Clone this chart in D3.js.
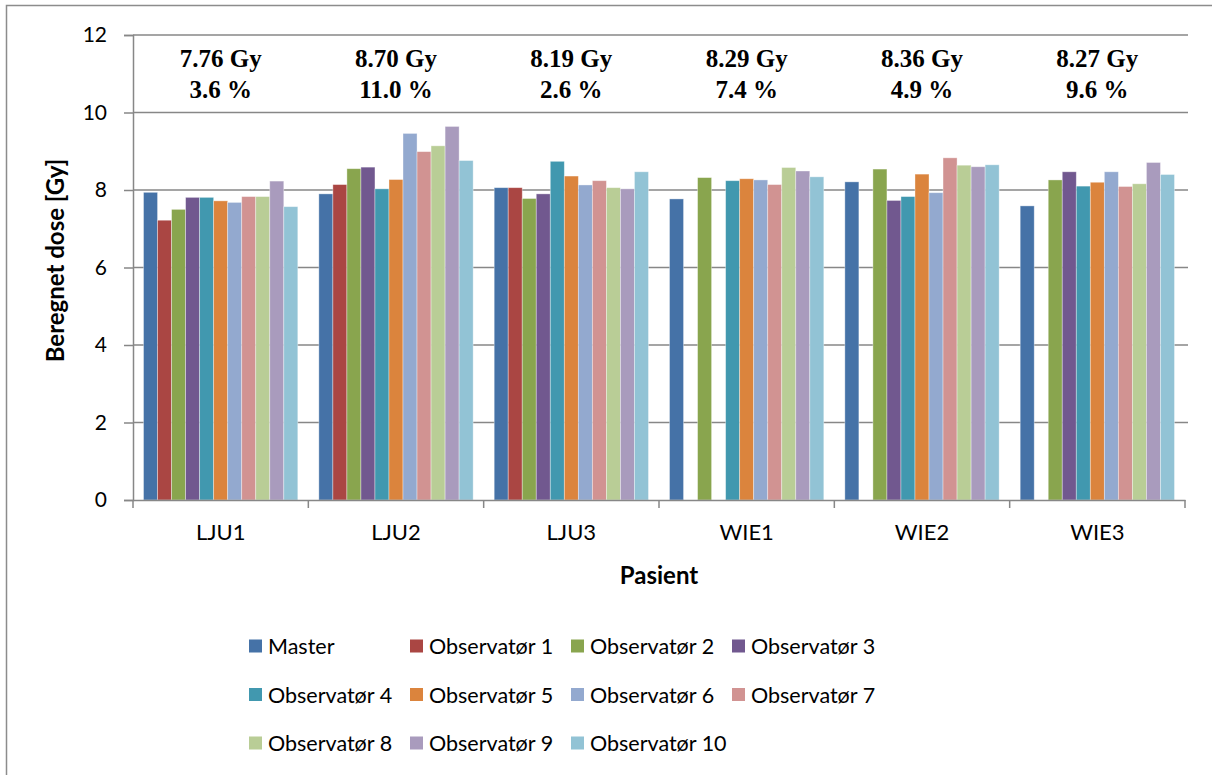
<!DOCTYPE html>
<html>
<head>
<meta charset="utf-8" />
<title>Beregnet dose</title>
<style>
  body { margin: 0; background: #fff; }
  svg text { font-family: Lato, "Open Sans", sans-serif; fill: #000; }
  .note { font-family: "Liberation Serif", "Times New Roman", serif; font-weight: bold; }
</style>
</head>
<body>
<div id="wrapper"></div>
<script src="https://d3js.org/d3.v7.min.js"></script>
<script>
  // patients and series
  const patients = ['LJU1', 'LJU2', 'LJU3', 'WIE1', 'WIE2', 'WIE3']
  const series = ['Master', 'Observatør 1', 'Observatør 2', 'Observatør 3', 'Observatør 4',
    'Observatør 5', 'Observatør 6', 'Observatør 7', 'Observatør 8', 'Observatør 9', 'Observatør 10']
  const colors = ['#4572A7', '#AA4643', '#89A54E', '#71588F', '#4198AF', '#DB843D',
    '#93A9CF', '#D19392', '#B9CD96', '#A99BBD', '#92C3D5']

  // one row per patient, one value per series (null = no bar)
  const doses = [
    [7.94, 7.22, 7.50, 7.81, 7.81, 7.72, 7.68, 7.83, 7.83, 8.23, 7.57],
    [7.90, 8.14, 8.55, 8.59, 8.03, 8.27, 9.46, 8.99, 9.14, 9.64, 8.76],
    [8.06, 8.06, 7.78, 7.90, 8.74, 8.36, 8.13, 8.24, 8.06, 8.03, 8.47],
    [7.77, null, 8.32, null, 8.24, 8.29, 8.26, 8.14, 8.58, 8.49, 8.34],
    [8.21, null, 8.54, 7.73, 7.83, 8.41, 7.93, 8.83, 8.64, 8.60, 8.65],
    [7.59, null, 8.26, 8.47, 8.10, 8.20, 8.47, 8.09, 8.16, 8.71, 8.40]
  ]
  const meanLabels = ['7.76 Gy', '8.70 Gy', '8.19 Gy', '8.29 Gy', '8.36 Gy', '8.27 Gy']
  const spreadLabels = ['3.6 %', '11.0 %', '2.6 %', '7.4 %', '4.9 %', '9.6 %']
  const yTicks = [0, 2, 4, 6, 8, 10, 12]

  const width = 1212
  const height = 775
  const margin = { left: 133, right: 27, top: 35, bottom: 275 }

  const svg = d3.select('#wrapper')
    .append('svg')
      .attr('width', width)
      .attr('height', height)

  // outer chart border
  svg.append('rect')
    .attr('x', 6.5).attr('y', 5.5)
    .attr('width', width).attr('height', height)
    .attr('fill', 'none').attr('stroke', '#8c8c8c').attr('stroke-width', 1.5)

  const x = d3.scaleBand()
    .domain(patients)
    .range([margin.left, width - margin.right])

  const xInner = d3.scaleBand()
    .domain(series)
    .range([0, x.bandwidth()])
    .paddingOuter(0.75)

  const y = d3.scaleLinear()
    .domain([0, 12])
    .range([height - margin.bottom, margin.top])

  // gridlines
  svg.append('g')
    .selectAll('line')
    .data(yTicks.filter(d => d > 0))
    .join('line')
      .attr('x1', margin.left)
      .attr('x2', width - margin.right + 3)
      .attr('y1', d => y(d))
      .attr('y2', d => y(d))
      .attr('stroke', '#878787')
      .attr('stroke-width', 1.5)

  // bars
  const groups = svg.append('g')
    .selectAll('g')
    .data(patients)
    .join('g')
      .attr('transform', d => `translate(${x(d)},0)`)

  groups.selectAll('rect')
    .data((p, i) => doses[i].map((v, j) => ({ s: series[j], v: v, c: colors[j] })).filter(d => d.v !== null))
    .join('rect')
      .attr('x', d => xInner(d.s))
      .attr('width', xInner.bandwidth())
      .attr('y', d => y(d.v))
      .attr('height', d => y(0) - y(d.v))
      .attr('fill', d => d.c)
      .attr('stroke', 'rgba(255,255,255,0.45)')
      .attr('stroke-width', 0.8)

  // y axis
  const yAxis = svg.append('g')
    .attr('transform', `translate(${margin.left},0)`)
    .call(d3.axisLeft(y).tickValues(yTicks).tickSize(9).tickPadding(17).tickFormat(d3.format('d')))
  yAxis.select('.domain').attr('stroke', '#878787').attr('stroke-width', 1.5)
  yAxis.selectAll('.tick line').attr('stroke', '#878787').attr('stroke-width', 1.5)
  yAxis.selectAll('.tick text').style('font-size', '21px')

  // x axis
  const xAxis = svg.append('g')
    .attr('transform', `translate(0,${y(0)})`)
    .call(d3.axisBottom(x).tickSize(0).tickPadding(24))
  xAxis.select('.domain').attr('stroke', '#878787').attr('stroke-width', 1.5)
  xAxis.selectAll('.tick text').style('font-size', '22px')
  xAxis.append('g')
    .selectAll('line')
    .data(d3.range(patients.length + 1))
    .join('line')
      .attr('x1', i => margin.left + i * x.step())
      .attr('x2', i => margin.left + i * x.step())
      .attr('y1', 0).attr('y2', 8)
      .attr('stroke', '#878787').attr('stroke-width', 1.5)

  // axis titles
  svg.append('text')
    .attr('transform', `translate(64,${(y(0) + y(12)) / 2 - 7}) rotate(-90)`)
    .attr('text-anchor', 'middle')
    .style('font-size', '24px').style('font-weight', 'bold')
    .text('Beregnet dose [Gy]')

  svg.append('text')
    .attr('x', margin.left + x.step() * 3)
    .attr('y', 584)
    .attr('text-anchor', 'middle')
    .style('font-size', '24px').style('font-weight', 'bold')
    .text('Pasient')

  // mean / spread notes above each patient
  const notes = svg.append('g')
    .selectAll('text')
    .data(patients)
    .join('text')
      .attr('class', 'note')
      .attr('text-anchor', 'middle')
      .style('font-size', '25px')
  notes.append('tspan')
    .attr('x', d => x(d) + x.bandwidth() / 2)
    .attr('y', 67)
    .text((d, i) => meanLabels[i])
  notes.append('tspan')
    .attr('x', d => x(d) + x.bandwidth() / 2)
    .attr('y', 98)
    .text((d, i) => spreadLabels[i])

  // legend, 4 columns
  const legend = svg.append('g')
    .selectAll('g')
    .data(series)
    .join('g')
      .attr('transform', (d, i) => `translate(${249 + (i % 4) * 161},${646 + Math.floor(i / 4) * 48.5})`)
  legend.append('rect')
    .attr('x', 0).attr('y', -6.5)
    .attr('width', 13).attr('height', 13)
    .attr('fill', (d, i) => colors[i])
  legend.append('text')
    .attr('x', 19).attr('y', 8)
    .style('font-size', '21.5px')
    .text(d => d)
</script>
</body>
</html>
